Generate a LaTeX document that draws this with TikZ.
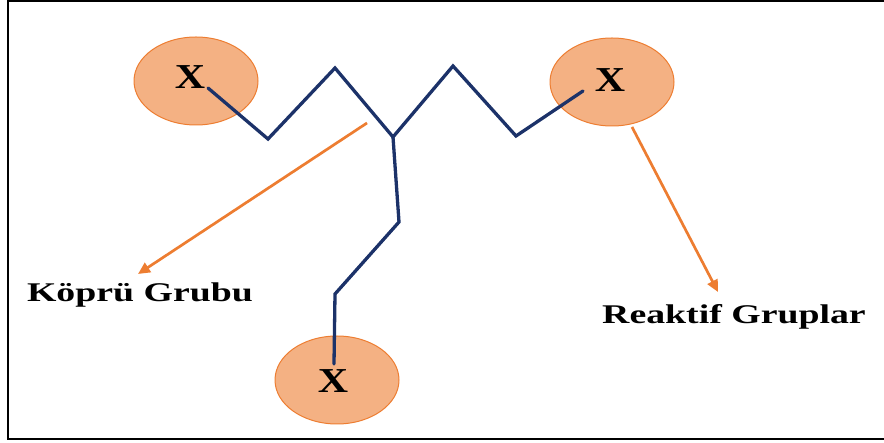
\documentclass[tikz,border=0pt]{standalone}
\usepackage{fontspec}
\setmainfont{Liberation Serif}
\usetikzlibrary{arrows.meta,shapes.geometric}
\definecolor{navy}{RGB}{28,50,105}
\definecolor{orfill}{RGB}{244,177,131}
\definecolor{ordraw}{RGB}{237,125,49}
\tikzset{
  blob/.style={ellipse, fill=orfill, draw=ordraw, line width=1pt, minimum width=124pt, minimum height=88pt, inner sep=0pt},
  chain/.style={draw=navy, line width=3.3pt, line join=miter, line cap=round},
  pointer/.style={draw=ordraw, line width=2.7pt, -{Triangle[length=12pt,width=11pt]}},
  xlab/.style={font=\fontsize{35}{35}\selectfont\bfseries, inner sep=0pt},
  lab/.style={font=\fontsize{27}{30}\selectfont\bfseries, inner sep=0pt}
}
\begin{document}
\begin{tikzpicture}[x=1pt,y=-1pt]
\useasboundingbox (0,0) rectangle (884,443);
\begin{scope}
\clip (0,0) rectangle (884,443);
\draw[line width=2pt, black] (8,1.5) rectangle (895,439.5);
\end{scope}
% blobs
\node[blob] (e1) at (196,81) {};
\node[blob] (e2) at (612,82) {};
\node[blob] (e3) at (337,380) {};
\node[xlab] (x1) at (190,77) {\scalebox{1.2}[1]{X}};
\node[xlab] (x2) at (610,80) {\scalebox{1.2}[1]{X}};
\node[xlab] (x3) at (333,381) {\scalebox{1.2}[1]{X}};
% chain
\coordinate (a0) at (208,88);
\coordinate (a1) at (268,139);
\coordinate (a2) at (335,68);
\coordinate (c) at (393,137);
\coordinate (a3) at (453,66);
\coordinate (a4) at (516,136);
\coordinate (a5) at (583,91);
\coordinate (b1) at (399,222);
\coordinate (b2) at (335,294);
\coordinate (b3) at (334,364);
\draw[chain] (a0) -- (a1) -- (a2) -- (c) -- (a3) -- (a4) -- (a5);
\draw[chain] (c) -- (b1) -- (b2) -- (b3);
% labels
\node[lab] (kg) at (140,295) {\scalebox{1.4}[1]{Köprü Grubu}};
\node[lab] (rg) at (734,317) {\scalebox{1.4}[1]{Reaktif Gruplar}};
\coordinate (s1) at (367,123);
\coordinate (t1) at (138,274);
\coordinate (s2) at (632,127);
\coordinate (t2) at (718,292);
\draw[pointer] (s1) -- (t1);
\draw[pointer] (s2) -- (t2);
\end{tikzpicture}
\end{document}
